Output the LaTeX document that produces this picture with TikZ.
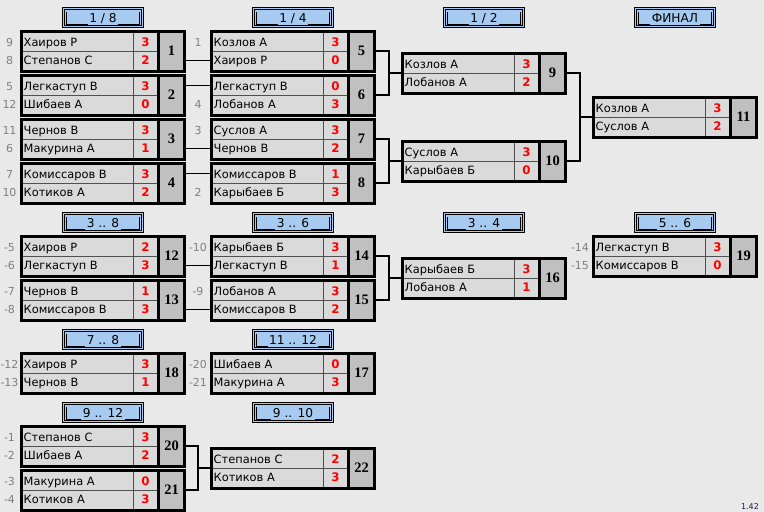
\documentclass[tikz,border=0pt]{standalone}
\usepackage{fontspec}
\setmainfont{DejaVu Sans}
\newfontfamily\numfont{Liberation Serif}
\definecolor{bg}{HTML}{E9E9E9}
\definecolor{cellgray}{HTML}{DADADA}
\definecolor{numgray}{HTML}{C0C0C0}
\definecolor{hdrblue}{HTML}{A6CAF0}
\definecolor{divgray}{HTML}{505050}
\definecolor{seedgray}{HTML}{808080}
\definecolor{verblue}{HTML}{1A1A4A}
\tikzset{
  divider/.style={draw=divgray,line width=1pt},
  conn/.style={draw=black,line width=1.2pt},
  numbox/.style={rectangle,fill=numgray,minimum width=23pt,minimum height=37pt,inner sep=0pt,
    font=\numfont\bfseries\fontsize{14.5}{14.5}\selectfont},
  pname/.style={anchor=base west,inner sep=0pt,font=\fontsize{11.4}{12}\selectfont},
  pscore/.style={anchor=base,inner sep=0pt,text=red,font=\bfseries\fontsize{11.8}{12}\selectfont},
  pseed/.style={anchor=base,inner sep=0pt,text=seedgray,font=\fontsize{11}{12}\selectfont},
  hdrtext/.style={anchor=base,fill=hdrblue,inner xsep=1.5pt,inner ysep=0pt,text height=9.5pt,text depth=2.6pt,
    font=\fontsize{12.2}{12}\selectfont},
  hdrline/.style={draw=black,line width=1pt},
}
\def\seedoff{12}
% #1 id, #2 L, #3 T, #4 name1, #5 score1, #6 name2, #7 score2, #8 seed1, #9 seed2
\newcommand\mtch[9]{%
  \fill[black] (#2,#3-0.5) rectangle (#2+166,#3+42.5);
  \fill[cellgray] (#2+3,#3+2.5) rectangle (#2+137,#3+39.5);
  \draw[divider] (#2+113.5,#3+2.5) -- (#2+113.5,#3+39.5);
  \draw[divider] (#2+3,#3+21) -- (#2+137,#3+21);
  \node[numbox] (m#1) at (#2+151.5,#3+21) {#1};
  \node[pname] (m#1a) at (#2+3.5,#3+16.3) {#4};
  \node[pname] (m#1b) at (#2+3.5,#3+34.8) {#6};
  \node[pscore] (m#1s) at (#2+125.5,#3+16.3) {#5};
  \node[pscore] (m#1t) at (#2+125.5,#3+34.8) {#7};
  \if\relax\detokenize{#8}\relax\else\node[pseed] (m#1u) at (#2-\seedoff,#3+16) {#8};\fi
  \if\relax\detokenize{#9}\relax\else\node[pseed] (m#1v) at (#2-\seedoff,#3+34.5) {#9};\fi
  \coordinate (m#1p) at (#2+1,#3+11.75);
  \coordinate (m#1q) at (#2+1,#3+30.25);
  \coordinate (m#1i) at (#2+1,#3+21);
  \coordinate (m#1j) at (#2-12,#3+21);
}
% #1 name, #2 L, #3 H, #4 text
\newcommand\hdr[4]{%
  \fill[hdrblue] (#2+42,#3) rectangle (#2+124,#3+21);
  \draw[hdrline] (#2+42.5,#3+0.5) rectangle (#2+123.5,#3+20.5);
  \draw[hdrline] (#2+44.5,#3+2.5) rectangle (#2+121.5,#3+18.5);
  \draw[hdrline] (#2+46.5,#3+4.5) -- (#2+46.5,#3+17) -- (#2+119.5,#3+17) -- (#2+119.5,#3+4.5);
  \node[hdrtext] (#1) at (#2+83,#3+15) {#4};
}
\begin{document}
\begin{tikzpicture}[x=1pt,y=-1pt]
\useasboundingbox (0,0) rectangle (764,512);
\fill[bg] (0,0) rectangle (764,512);
% headers
\hdr{h18}{20}{7}{1 / 8}
\hdr{h14}{210}{7}{1 / 4}
\hdr{h12}{401}{7}{1 / 2}
\hdr{hfin}{592}{7}{ФИНАЛ}
\hdr{h38}{20}{212}{3 .. 8}
\hdr{h36}{210}{212}{3 .. 6}
\hdr{h34}{401}{212}{3 .. 4}
\hdr{h56}{592}{212}{5 .. 6}
\hdr{h78}{20}{329}{7 .. 8}
\hdr{h1112}{210}{329}{11 .. 12}
\hdr{h912}{20}{402}{9 .. 12}
\hdr{h910}{210}{402}{9 .. 10}
% column 1
\def\seedoff{10.5}
\mtch{1}{20}{30}{Хаиров Р}{3}{Степанов С}{2}{9}{8}
\mtch{2}{20}{74}{Легкаступ В}{3}{Шибаев А}{0}{5}{12}
\mtch{3}{20}{118}{Чернов В}{3}{Макурина А}{1}{11}{6}
\mtch{4}{20}{162}{Комиссаров В}{3}{Котиков А}{2}{7}{10}
\mtch{12}{20}{235}{Хаиров Р}{2}{Легкаступ В}{3}{-5}{-6}
\mtch{13}{20}{279}{Чернов В}{1}{Комиссаров В}{3}{-7}{-8}
\mtch{18}{20}{352}{Хаиров Р}{3}{Чернов В}{1}{-12}{-13}
\mtch{20}{20}{425}{Степанов С}{3}{Шибаев А}{2}{-1}{-2}
\mtch{21}{20}{469}{Макурина А}{0}{Котиков А}{3}{-3}{-4}
\def\seedoff{12}
% column 2
\mtch{5}{210}{30}{Козлов А}{3}{Хаиров Р}{0}{1}{}
\mtch{6}{210}{74}{Легкаступ В}{0}{Лобанов А}{3}{}{4}
\mtch{7}{210}{118}{Суслов А}{3}{Чернов В}{2}{3}{}
\mtch{8}{210}{162}{Комиссаров В}{1}{Карыбаев Б}{3}{}{2}
\mtch{14}{210}{235}{Карыбаев Б}{3}{Легкаступ В}{1}{-10}{}
\mtch{15}{210}{279}{Лобанов А}{3}{Комиссаров В}{2}{-9}{}
\mtch{17}{210}{352}{Шибаев А}{0}{Макурина А}{3}{-20}{-21}
\mtch{22}{210}{447}{Степанов С}{2}{Котиков А}{3}{}{}
% column 3
\mtch{9}{401}{52}{Козлов А}{3}{Лобанов А}{2}{}{}
\mtch{10}{401}{140}{Суслов А}{3}{Карыбаев Б}{0}{}{}
\mtch{16}{401}{257}{Карыбаев Б}{3}{Лобанов А}{1}{}{}
% column 4
\mtch{11}{592}{96}{Козлов А}{3}{Суслов А}{2}{}{}
\mtch{19}{592}{235}{Легкаступ В}{3}{Комиссаров В}{0}{-14}{-15}
% straight connectors
\draw[conn] (m1.east |- m5q) -- (m5q);
\draw[conn] (m2.east |- m6p) -- (m6p);
\draw[conn] (m3.east |- m7q) -- (m7q);
\draw[conn] (m4.east |- m8p) -- (m8p);
\draw[conn] (m12.east |- m14q) -- (m14q);
\draw[conn] (m13.east |- m15q) -- (m15q);
% brackets
\draw[conn] (m5.east) -| (m9j) |- (m6.east);
\draw[conn] (m9j) -- (m9i);
\draw[conn] (m7.east) -| (m10j) |- (m8.east);
\draw[conn] (m10j) -- (m10i);
\draw[conn] (m9.east) -| (m11j) |- (m10.east);
\draw[conn] (m11j) -- (m11i);
\draw[conn] (m14.east) -| (m16j) |- (m15.east);
\draw[conn] (m16j) -- (m16i);
\draw[conn] (m20.east) -| (m22j) |- (m21.east);
\draw[conn] (m22j) -- (m22i);
% version
\node[inner sep=0pt,anchor=base,text=verblue,font=\fontsize{8}{8}\selectfont] (ver) at (750,509) {1.42};
\end{tikzpicture}
\end{document}
